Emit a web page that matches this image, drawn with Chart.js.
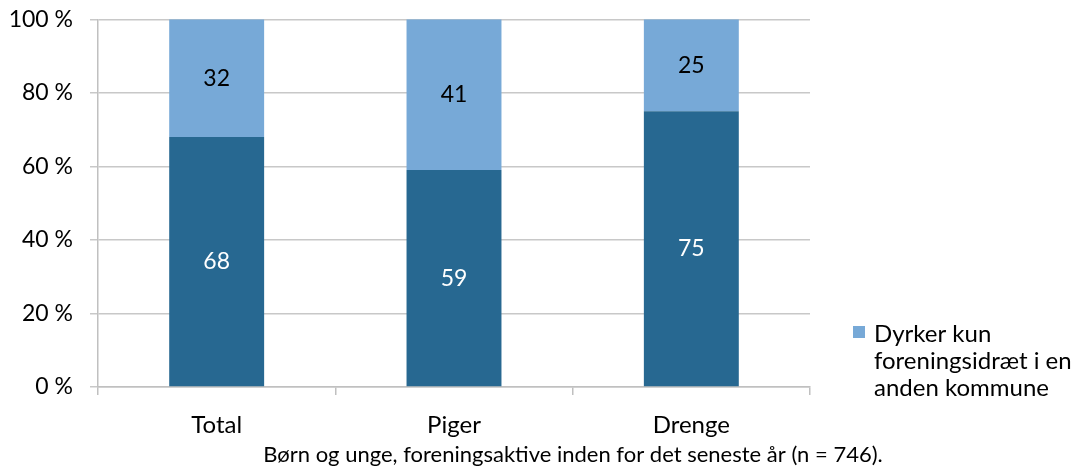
<!DOCTYPE html>
<html>
<head>
<meta charset="utf-8">
<script src="https://cdn.jsdelivr.net/npm/chart.js@4"></script>
<style>
  html, body { margin: 0; padding: 0; background: #fff; }
  #wrap { width: 1083px; height: 472px; }
</style>
</head>
<body>
<div id="wrap"><canvas id="myChart" width="1083" height="472"></canvas></div>
<script>
const labels = ["Total", "Piger", "Drenge"];
const samme = [68, 59, 75];
const anden = [32, 41, 25];
const yTicks = ["0 %", "20 %", "40 %", "60 %", "80 %", "100 %"];
const legendText = ["Dyrker kun", "foreningsidræt i en", "anden kommune"];
const axisTitle = "Børn og unge, foreningsaktive inden for det seneste år (n = 746).";

const FONT = "Lato, 'Open Sans', sans-serif";
const dark = '#276891';
const light = '#77a9d7';

const ctx = document.getElementById('myChart').getContext('2d');

// values in the middle of each segment
const valueLabels = {
    id: 'valueLabels',
    afterDatasetsDraw(chart) {
        const c = chart.ctx;
        c.save();
        c.font = '23px ' + FONT;
        c.textAlign = 'center';
        c.textBaseline = 'middle';
        chart.data.datasets.forEach((ds, i) => {
            chart.getDatasetMeta(i).data.forEach((bar, j) => {
                const p = bar.getProps(['x', 'y', 'base'], true);
                c.fillStyle = i === 0 ? '#ffffff' : '#000000';
                c.fillText(ds.data[j], p.x, (p.y + p.base) / 2);
            });
        });
        c.restore();
    }
};

// legend on the right (only the light series, as in the original) + axis title
const sideLegend = {
    id: 'sideLegend',
    afterDraw(chart) {
        const c = chart.ctx;
        const x = chart.chartArea.right + 43;
        const y = 342;
        c.save();
        c.fillStyle = light;
        c.fillRect(x, y - 16, 12, 12);
        c.fillStyle = '#000';
        c.font = '24px ' + FONT;
        c.textBaseline = 'alphabetic';
        legendText.forEach((t, k) => c.fillText(t, x + 21, y + k * 27));

        c.font = '22px ' + FONT;
        c.textAlign = 'center';
        c.textBaseline = 'middle';
        c.fillText(axisTitle, 573, 455);
        c.restore();
    }
};

const data = {
    labels,
    datasets: [
        {
            label: "Dyrker foreningsidræt i egen kommune",
            data: samme,
            backgroundColor: dark,
            barPercentage: 0.4,
            categoryPercentage: 1
        },
        {
            label: legendText.join(' '),
            data: anden,
            backgroundColor: light,
            barPercentage: 0.4,
            categoryPercentage: 1
        }
    ]
};

const config = {
    type: 'bar',
    data: data,
    plugins: [valueLabels, sideLegend],
    options: {
        responsive: false,
        animation: false,
        layout: { padding: { top: 0, right: 273, left: 0, bottom: 0 } },
        plugins: {
            legend: { display: false },
            tooltip: { enabled: false }
        },
        scales: {
            x: {
                stacked: true,
                offset: true,
                afterFit: (s) => { s.height = 85; },
                border: { color: '#c0c0c0', width: 1.5 },
                grid: {
                    offset: true,
                    drawOnChartArea: false,
                    drawTicks: true,
                    tickLength: 8,
                    color: '#c0c0c0',
                    lineWidth: 1.5
                },
                ticks: {
                    color: '#000',
                    padding: 16,
                    font: { family: FONT, size: 24 }
                }
            },
            y: {
                stacked: true,
                min: 0,
                max: 100,
                afterFit: (s) => { s.width = 98; },
                border: { color: '#c0c0c0', width: 1.5 },
                grid: {
                    color: '#c8c8c8',
                    lineWidth: 1.5,
                    tickLength: 8
                },
                ticks: {
                    stepSize: 20,
                    color: '#000',
                    padding: 17,
                    font: { family: FONT, size: 23, lineHeight: 0.2 },
                    callback: (v) => yTicks[v / 20]
                }
            }
        }
    }
};

const myChart = new Chart(ctx, config);
</script>
</body>
</html>
